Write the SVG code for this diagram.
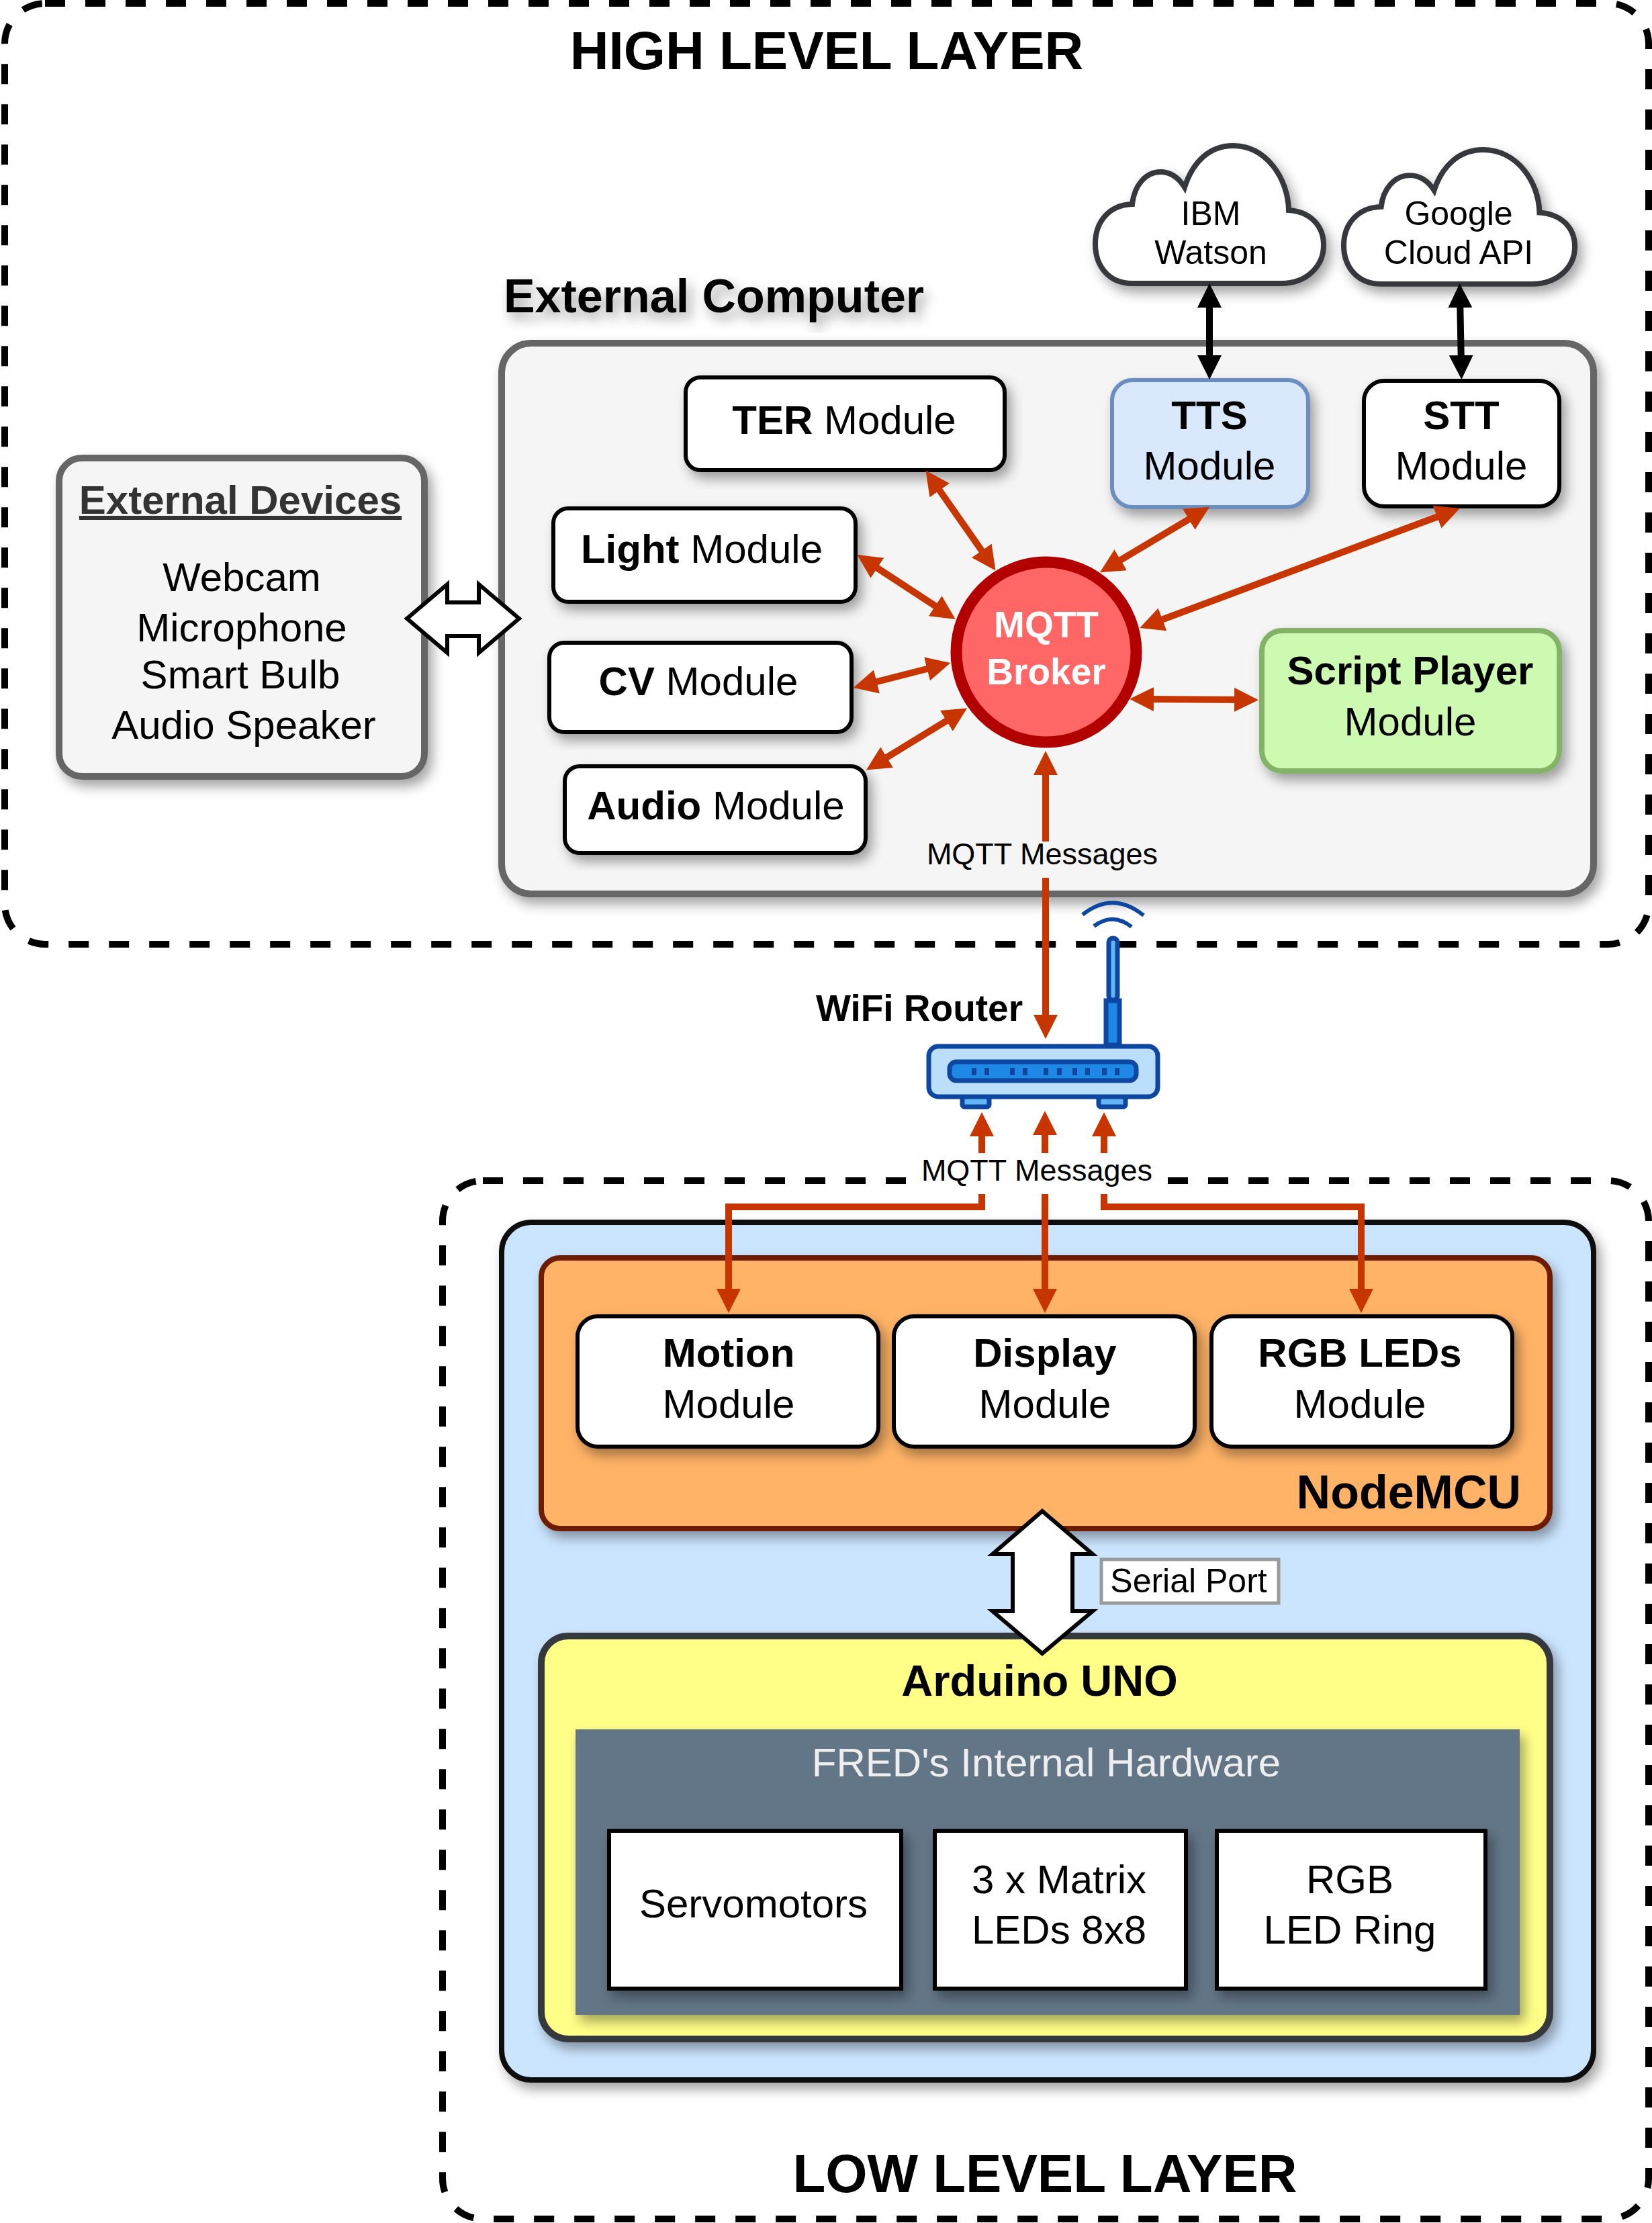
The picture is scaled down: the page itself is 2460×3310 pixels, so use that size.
<svg xmlns="http://www.w3.org/2000/svg" width="2460" height="3310" viewBox="0 0 2460 3310">
<style>
text{font-family:"Liberation Sans",Arial,sans-serif;font-size:60px;text-anchor:middle;fill:#000}
.b{font-weight:bold}
.box{fill:#fff;stroke:#000;stroke-width:6}
.layer{fill:none;stroke:#000;stroke-width:10;stroke-dasharray:30 30}
.red{fill:none;stroke:#c73500;stroke-width:10}
.blk{fill:none;stroke:#000;stroke-width:10}
.msg{font-size:45px}
.cloud{fill:#fff;stroke:#36393d;stroke-width:8}
.rt{stroke:#0d47a1;stroke-width:7}
</style>
<defs>
<filter id="sh" x="-20%" y="-20%" width="140%" height="140%"><feDropShadow dx="7" dy="10" stdDeviation="9" flood-color="#000" flood-opacity="0.36"/></filter>
<marker id="ar" markerUnits="userSpaceOnUse" markerWidth="40" markerHeight="40" refX="16" refY="18" orient="auto-start-reverse"><path d="M0,0L36,18L0,36Z" fill="#c73500"/></marker>
<marker id="ak" markerUnits="userSpaceOnUse" markerWidth="40" markerHeight="40" refX="16" refY="18" orient="auto-start-reverse"><path d="M0,0L36,18L0,36Z" fill="#000"/></marker>
<path id="cl" d="M55,205C20,205 0,179 0,146C0,114 20,88 55,87C58,59 75,39 97,39C113,39 125,49 133,62C145,24 170,0 205,0C255,0 287,49 288,96C320,98 340,119 340,148C340,179 315,205 277,205Z"/>
</defs>
<rect id="high-layer" class="layer" x="7" y="5" width="2448" height="1401" rx="60"/>
<rect id="low-layer" class="layer" x="659" y="1758" width="1796" height="1546" rx="60"/>
<text x="1231" y="103" class="b" style="font-size:80px">HIGH LEVEL LAYER</text>
<text x="1556" y="3264" class="b" style="font-size:80px">LOW LEVEL LAYER</text>

<g id="external-devices">
<rect x="88" y="682" width="544" height="474" rx="34" fill="#f5f5f5" stroke="#666" stroke-width="10" filter="url(#sh)"/>
<text x="358" y="765" class="b" text-decoration="underline" style="fill:#333">External Devices</text>
<text x="360" y="880">Webcam</text>
<text x="360" y="955">Microphone</text>
<text x="358" y="1025">Smart Bulb</text>
<text x="363" y="1100">Audio Speaker</text>
</g>
<g id="external-computer">
<text x="1063" y="465" class="b" filter="url(#sh)" style="font-size:70px">External Computer</text>
<rect x="747" y="511" width="1626" height="820" rx="44" fill="#f5f5f5" stroke="#666" stroke-width="10" filter="url(#sh)"/>
</g>
<g id="ibm-watson">
<use href="#cl" class="cloud" x="1631" y="217" filter="url(#sh)"/>
<text x="1803" y="335" style="font-size:50px">IBM</text><text x="1803" y="393" style="font-size:50px">Watson</text>
</g>
<g id="google-cloud">
<use href="#cl" class="cloud" transform="translate(2001,223) scale(1.012,0.975)" filter="url(#sh)"/>
<text x="2172" y="335" style="font-size:50px">Google</text><text x="2172" y="393" style="font-size:50px">Cloud API</text>
</g>
<g id="ter-module"><rect class="box" x="1021" y="562" width="475" height="138" rx="22" filter="url(#sh)"/><text x="1257" y="646"><tspan class="b">TER</tspan> Module</text></g>
<g id="tts-module"><rect x="1656" y="566" width="292" height="189" rx="30" fill="#dae8fc" stroke="#6c8ebf" stroke-width="6" filter="url(#sh)"/><text x="1801" y="639" class="b">TTS</text><text x="1801" y="714">Module</text></g>
<g id="stt-module"><rect class="box" x="2031" y="567" width="291" height="187" rx="30" filter="url(#sh)"/><text x="2176" y="639" class="b">STT</text><text x="2176" y="714">Module</text></g>
<g id="light-module"><rect class="box" x="824" y="757" width="450" height="139" rx="22" filter="url(#sh)"/><text x="1045" y="838"><tspan class="b">Light</tspan> Module</text></g>
<g id="cv-module"><rect class="box" x="818" y="957" width="450" height="133" rx="22" filter="url(#sh)"/><text x="1040" y="1035"><tspan class="b">CV</tspan> Module</text></g>
<g id="audio-module"><rect class="box" x="841" y="1141" width="448" height="129" rx="22" filter="url(#sh)"/><text x="1066" y="1220"><tspan class="b">Audio</tspan> Module</text></g>
<g id="script-player"><rect x="1879" y="939" width="443" height="209" rx="30" fill="#ccfab0" stroke="#82b366" stroke-width="8" filter="url(#sh)"/><text x="2100" y="1019" class="b">Script Player</text><text x="2100" y="1095">Module</text></g>
<g id="mqtt-broker"><circle cx="1558" cy="971" r="134" fill="#ff6666" stroke="#b20000" stroke-width="17"/><text x="1558" y="949" class="b" style="fill:#fff;font-size:55px">MQTT</text><text x="1558" y="1019" class="b" style="fill:#fff;font-size:55px">Broker</text></g>

<g id="wifi-router">
<path d="M1612,1362Q1657,1326 1703,1363" fill="none" stroke="#0d47a1" stroke-width="6"/>
<path d="M1629,1379Q1657,1358 1685,1380" fill="none" stroke="#0d47a1" stroke-width="6"/>
<rect class="rt" x="1651" y="1397" width="13" height="92" rx="6" fill="#64b5f6"/>
<rect class="rt" x="1647" y="1490" width="20" height="66" fill="#1e88e5"/>
<rect class="rt" x="1433" y="1632" width="40" height="16" rx="3" fill="#64b5f6"/>
<rect class="rt" x="1636" y="1632" width="40" height="16" rx="3" fill="#64b5f6"/>
<rect class="rt" x="1383" y="1558" width="341" height="75" rx="14" fill="#bbdefb"/>
<rect class="rt" x="1414" y="1581" width="278" height="28" rx="10" fill="#1e88e5"/>
<path fill="#0d47a1" d="M1447,1590h7v11h-7zM1466,1590h7v11h-7zM1504,1590h7v11h-7zM1523,1590h7v11h-7zM1554,1590h7v11h-7zM1574,1590h7v11h-7zM1597,1590h7v11h-7zM1616,1590h7v11h-7zM1641,1590h7v11h-7zM1660,1590h7v11h-7z"/>
<text x="1369" y="1520" class="b" style="font-size:55px">WiFi Router</text>
</g>

<g id="main-board"><rect x="747" y="1820" width="1626" height="1277" rx="44" fill="#cce5ff" stroke="#111" stroke-width="8" filter="url(#sh)"/></g>
<g id="nodemcu"><rect x="806" y="1873" width="1502" height="403" rx="28" fill="#ffb366" stroke="#6d1f00" stroke-width="8" filter="url(#sh)"/><text x="2265" y="2246" class="b" style="font-size:70px;text-anchor:end">NodeMCU</text></g>
<g id="motion-module"><rect class="box" x="860" y="1960" width="448" height="194" rx="30" filter="url(#sh)"/><text x="1085" y="2035" class="b">Motion</text><text x="1085" y="2111">Module</text></g>
<g id="display-module"><rect class="box" x="1331" y="1960" width="448" height="194" rx="30" filter="url(#sh)"/><text x="1556" y="2035" class="b">Display</text><text x="1556" y="2111">Module</text></g>
<g id="rgb-module"><rect class="box" x="1804" y="1960" width="448" height="194" rx="30" filter="url(#sh)"/><text x="2025" y="2035" class="b">RGB LEDs</text><text x="2025" y="2111">Module</text></g>
<g id="arduino"><rect x="806" y="2436" width="1502" height="600" rx="40" fill="#ffff88" stroke="#36393d" stroke-width="10" filter="url(#sh)"/><text x="1548" y="2525" class="b" style="font-size:65px">Arduino UNO</text></g>
<g id="hardware"><rect x="857" y="2575" width="1406" height="425" fill="#647687" filter="url(#sh)"/><text x="1558" y="2645" style="fill:#eee">FRED's Internal Hardware</text></g>
<g id="servomotors"><rect class="box" x="907" y="2726" width="435" height="235" filter="url(#sh)"/><text x="1122" y="2855">Servomotors</text></g>
<g id="matrix-leds"><rect class="box" x="1392" y="2726" width="374" height="235" filter="url(#sh)"/><text x="1577" y="2819">3 x Matrix</text><text x="1577" y="2894">LEDs 8x8</text></g>
<g id="led-ring"><rect class="box" x="1812" y="2726" width="400" height="235" filter="url(#sh)"/><text x="2010" y="2819">RGB</text><text x="2010" y="2894">LED Ring</text></g>

<g id="connectors">
<path d="M666,870L606,921L666,972V947H713V972L773,921L713,870V897H666Z" fill="#fff" stroke="#000" stroke-width="6"/>
<g marker-start="url(#ak)" marker-end="url(#ak)" class="blk">
<path d="M1801,442V545"/>
<path d="M2174,442L2176,545"/>
</g>
<g class="red" marker-start="url(#ar)" marker-end="url(#ar)">
<path d="M1390,717L1471,833"/>
<path d="M1784,765L1655,842"/>
<path d="M2155,764L1716,928"/>
<path d="M1293,837L1406,911"/>
<path d="M1290,1019L1396,992"/>
<path d="M1307,1136L1423,1065"/>
<path d="M1702,1041L1854,1042"/>
<path d="M1557,1138V1527"/>
</g>
<rect x="1375" y="1253" width="354" height="54" fill="#f5f5f5"/>
<text x="1552" y="1287" class="msg">MQTT Messages</text>
<g class="red" marker-end="url(#ar)">
<path d="M1462,1717V1676"/>
<path d="M1556,1717V1674"/>
<path d="M1644,1717V1676"/>
<path d="M1462,1778V1797H1085V1935"/>
<path d="M1556,1778V1935"/>
<path d="M1644,1778V1797H2027V1935"/>
</g>
<rect x="1365" y="1725" width="368" height="50" fill="#fff"/>
<text x="1544" y="1758" class="msg">MQTT Messages</text>
<path d="M1552,2250L1478,2314H1508V2399H1478L1552,2462L1627,2399H1597V2314H1627Z" fill="#fff" stroke="#000" stroke-width="6"/>
<g id="serial-label"><rect x="1640" y="2322" width="264" height="65" fill="#fff" stroke="#999" stroke-width="5"/><text x="1770" y="2371" style="font-size:50px">Serial Port</text></g>
</g>
</svg>
